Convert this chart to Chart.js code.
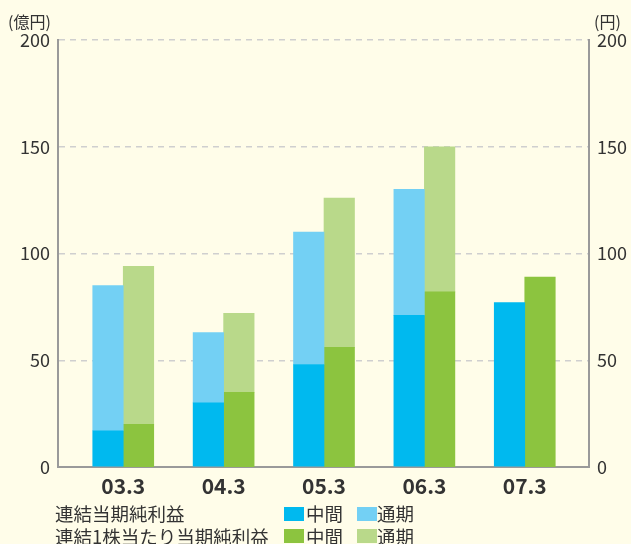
<!DOCTYPE html>
<html>
<head>
<meta charset="utf-8">
<script src="https://cdn.jsdelivr.net/npm/chart.js@4"></script>
<style>
    body { margin: 0; background: #fffde9; }
    #wrap { position: relative; width: 631px; height: 544px; overflow: hidden; font-family: "Noto Sans CJK JP", "Noto Sans", sans-serif; color: #333; }
    canvas { position: absolute; left: 0; top: 0; }
    .unit { position: absolute; top: 9px; font-size: 16px; }
    .row { position: absolute; left: 55px; font-size: 18.5px; line-height: 20px; white-space: nowrap; }
    .key { position: absolute; font-size: 18.5px; line-height: 20px; }
    .box { position: absolute; width: 20px; height: 14px; }
</style>
</head>
<body>
<div id="wrap">
    <canvas id="chart" width="631" height="544"></canvas>
    <div class="unit" style="left:8px">(億円)</div>
    <div class="unit" style="left:594px">(円)</div>

    <div class="row" style="top:503px">連結当期純利益</div>
    <div class="box" style="left:284px;top:507px;background:#00b9ef"></div>
    <div class="key" style="left:306px;top:503px">中間</div>
    <div class="box" style="left:357px;top:507px;background:#73d0f4"></div>
    <div class="key" style="left:377px;top:503px">通期</div>

    <div class="row" style="top:526px">連結1株当たり当期純利益</div>
    <div class="box" style="left:284px;top:529px;background:#8cc43f"></div>
    <div class="key" style="left:306px;top:526px">中間</div>
    <div class="box" style="left:357px;top:529px;background:#b9d98a"></div>
    <div class="key" style="left:377px;top:526px">通期</div>
</div>
<script>
// Data
const years = ["03.3", "04.3", "05.3", "06.3", "07.3"];
const incomeInterim = [17, 30, 48, 71, 77];     // 億円
const incomeFull = [85, 63, 110, 130, null];
const epsInterim = [20, 35, 56, 82, 89];        // 円
const epsFull = [94, 72, 126, 150, null];
const yTicks = [0, 50, 100, 150, 200];

const font = "'Noto Sans CJK JP', 'Noto Sans', sans-serif";

function points(values) {
    return values.map((v, i) => ({ x: i, y: v }));
}

// full-year bars float from the interim value up to the full-year total
function ranges(low, high) {
    return high.map((v, i) => ({ x: i, y: v === null ? null : [low[i], v] }));
}

function yAxis(position, showGrid) {
    return {
        position: position,
        min: 0,
        max: 200,
        stacked: false,
        afterBuildTicks: axis => { axis.ticks = yTicks.map(v => ({ value: v })); },
        afterFit: axis => { axis.width = position === "left" ? 58 : 42; },
        ticks: {
            color: "#333",
            padding: 8,
            font: { family: font, size: 18 }
        },
        grid: {
            display: showGrid,
            drawTicks: false,
            lineWidth: 1.5,
            color: ctx => ctx.tick && ctx.tick.value === 0 ? "rgba(0,0,0,0)" : "#cfcfcf"
        },
        border: { display: true, color: "#9a9a9a", width: 2, dash: [6, 5] }
    };
}

new Chart(document.getElementById("chart"), {
    type: "bar",
    data: {
        datasets: [
            { label: "中間", stack: "income", yAxisID: "y", data: points(incomeInterim), backgroundColor: "#00b9ef" },
            { label: "通期", stack: "income", yAxisID: "y", data: ranges(incomeInterim, incomeFull), backgroundColor: "#73d0f4" },
            { label: "中間", stack: "eps", yAxisID: "y2", data: points(epsInterim), backgroundColor: "#8cc43f" },
            { label: "通期", stack: "eps", yAxisID: "y2", data: ranges(epsInterim, epsFull), backgroundColor: "#b9d98a" }
        ]
    },
    options: {
        responsive: false,
        animation: false,
        barThickness: 30.5,
        layout: { padding: { left: 0, right: 0, top: 40, bottom: 47 } },
        plugins: {
            legend: { display: false },
            tooltip: { enabled: false }
        },
        scales: {
            x: {
                type: "linear",
                min: -0.65,
                max: 4.64,
                offset: false,
                afterFit: axis => { axis.height = 30; },
                ticks: {
                    stepSize: 1,
                    includeBounds: false,
                    autoSkip: false,
                    maxRotation: 0,
                    padding: 6,
                    color: "#333",
                    font: { family: font, size: 21, weight: "bold" },
                    callback: v => Number.isInteger(v) ? years[v] : ""
                },
                grid: { display: false, drawTicks: false, offset: false },
                border: { display: true, color: "#9a9a9a", width: 2 }
            },
            y: yAxis("left", true),
            y2: yAxis("right", false)
        }
    }
});
</script>
</body>
</html>
